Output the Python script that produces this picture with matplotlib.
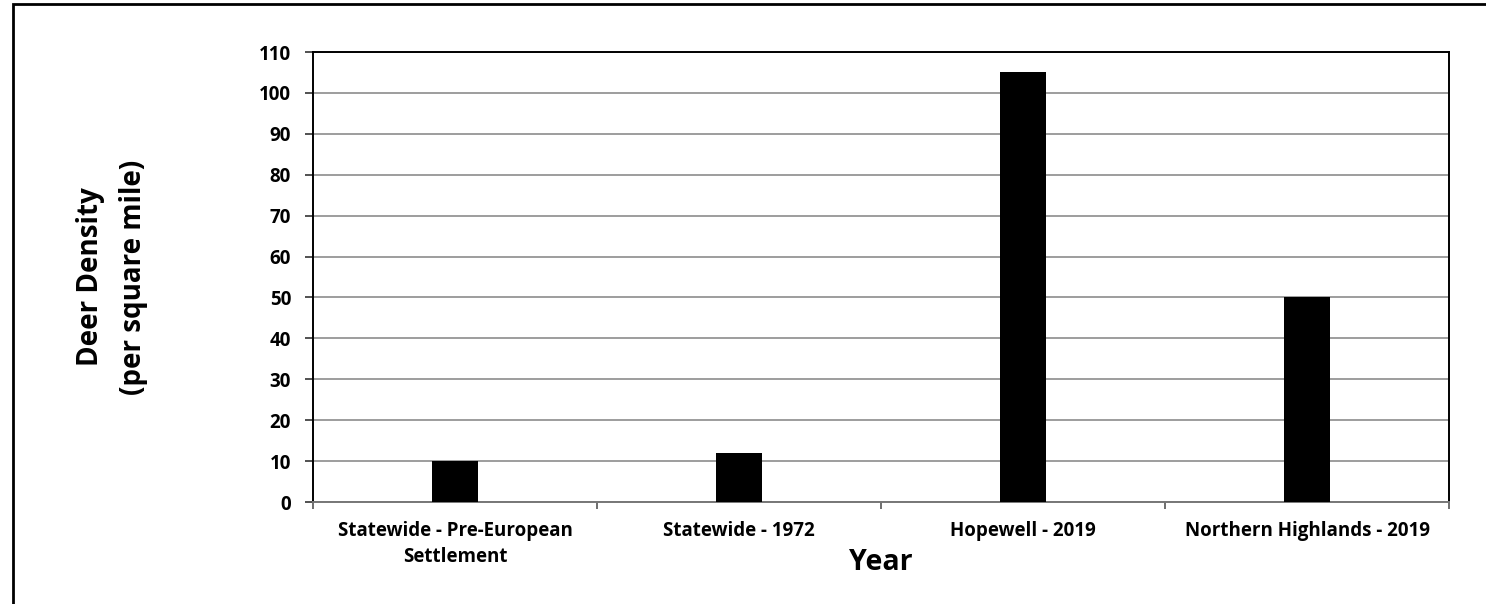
import matplotlib.pyplot as plt
from matplotlib.patches import Rectangle

# deer density by area / year
categorias = ['Statewide - Pre-European\nSettlement', 'Statewide - 1972',
              'Hopewell - 2019', 'Northern Highlands - 2019']
densidad = [10, 12, 105, 50]
yticks = list(range(0, 111, 10))

plt.rcParams['font.family'] = ['Open Sans', 'DejaVu Sans']

fig = plt.figure(figsize=(14.86, 6.04), dpi=100)
W, H = 1486, 604
ax = fig.add_axes([313 / W, 1 - 502 / H, (1449 - 313) / W, (502 - 52) / H])

x = range(len(categorias))
ax.bar(x, densidad, width=0.165, color='black', zorder=3)

ax.set_xlim(-0.5, len(categorias) - 0.5)
ax.set_ylim(0, 110)
ax.set_yticks(yticks)
ax.set_yticklabels([str(v) for v in yticks], fontsize=13.5, fontweight='bold')
ax.yaxis.grid(True, color='#8c8c8c', linewidth=1.2, zorder=0)

# ticks between categories, labels centered
ax.set_xticks([i - 0.5 for i in range(len(categorias) + 1)])
ax.set_xticklabels([])
ax.set_xticks(list(x), minor=True)
ax.set_xticklabels(categorias, minor=True, fontsize=13.5, fontweight='bold',
                   linespacing=1.35)
ax.tick_params(axis='x', which='minor', length=0, pad=14)
ax.tick_params(axis='x', which='major', length=5, color='#555555', width=1.2)
ax.tick_params(axis='y', length=5.8, width=1.2, color='#333333', pad=10)

for lado in ['top', 'right', 'left', 'bottom']:
    ax.spines[lado].set_linewidth(1.4)
ax.spines['bottom'].set_color('#777777')

fig.text(881 / W, 1 - 563 / H, 'Year', fontsize=20.5, fontweight='bold',
         ha='center', va='center')
fig.text(112 / W, 1 - 277 / H, 'Deer Density\n(per square mile)', rotation=90,
         fontsize=20, fontweight='bold', ha='center', va='center',
         multialignment='center', linespacing=1.6)

# chart border
fig.patches.append(Rectangle((13 / W, -0.1), 1.2, 1 - 4 / H + 0.1,
                             transform=fig.transFigure, fill=False,
                             edgecolor='black', linewidth=2))

fig.savefig('out.png', dpi=100)
